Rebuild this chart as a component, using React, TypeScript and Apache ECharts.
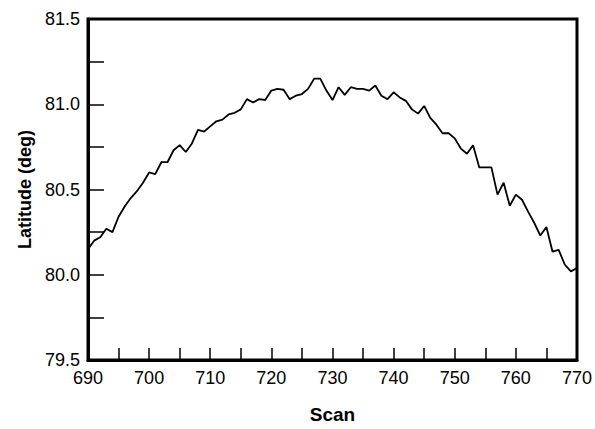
import React, { useEffect, useRef } from "react";
import * as echarts from "echarts";

const scans: number[] = [];
for (let s = 690; s <= 770; s++) scans.push(s);

const latitude = [
  80.15, 80.2, 80.22, 80.27, 80.25, 80.34, 80.4, 80.45, 80.49, 80.54,
  80.6, 80.59, 80.66, 80.66, 80.73, 80.76, 80.72, 80.77, 80.85, 80.84,
  80.87, 80.9, 80.91, 80.94, 80.95, 80.97, 81.03, 81.01, 81.03, 81.025,
  81.08, 81.09, 81.085, 81.03, 81.05, 81.06, 81.09, 81.15, 81.15, 81.08,
  81.025, 81.1, 81.055, 81.1, 81.09, 81.09, 81.08, 81.11, 81.05, 81.03,
  81.07, 81.04, 81.02, 80.97, 80.945, 80.99, 80.92, 80.88, 80.83, 80.83,
  80.8, 80.74, 80.71, 80.76, 80.63, 80.63, 80.63, 80.47, 80.54, 80.405,
  80.47, 80.44, 80.37, 80.305, 80.23, 80.28, 80.135, 80.146, 80.06, 80.02,
  80.04,
];

const xTitle = "Scan";
const yTitle = "Latitude (deg)";

export default function App() {
  const ref = useRef<HTMLDivElement>(null);
  useEffect(() => {
    if (!ref.current) return;
    const chart = echarts.init(ref.current, undefined, { renderer: "svg" });
    const font = "'Liberation Sans', Arial, Helvetica, sans-serif";
    chart.setOption({
      animation: false,
      backgroundColor: "#fff",
      grid: {
        left: 88,
        right: 18,
        top: 19,
        bottom: 58,
        show: true,
        borderColor: "#000",
        borderWidth: 3,
        backgroundColor: "transparent",
      },
      xAxis: {
        type: "value",
        min: 690,
        max: 770,
        interval: 5,
        name: xTitle,
        nameLocation: "middle",
        nameGap: 45,
        nameTextStyle: { fontFamily: font, fontSize: 19, fontWeight: "bold", color: "#000" },
        axisLine: { show: true, lineStyle: { color: "#000", width: 3 } },
        axisTick: { show: true, inside: true, length: 12, lineStyle: { color: "#000", width: 1.5 } },
        axisLabel: {
          fontFamily: font,
          fontSize: 18,
          color: "#000",
          margin: 9,
          formatter: (v: number) => (v % 10 === 0 ? String(v) : ""),
        },
        splitLine: { show: false },
      },
      yAxis: {
        type: "value",
        min: 79.5,
        max: 81.5,
        interval: 0.25,
        name: yTitle,
        nameLocation: "middle",
        nameGap: 44,
        nameRotate: 90,
        nameTextStyle: { fontFamily: font, fontSize: 18, fontWeight: "bold", color: "#000" },
        axisLine: { show: true, lineStyle: { color: "#000", width: 3 } },
        axisTick: { show: true, inside: true, length: 16, lineStyle: { color: "#000", width: 1.5 } },
        axisLabel: {
          fontFamily: font,
          fontSize: 18,
          color: "#000",
          margin: 8,
          formatter: (v: number) =>
            Math.abs(v * 2 - Math.round(v * 2)) < 1e-6 ? v.toFixed(1) : "",
        },
        splitLine: { show: false },
      },
      series: [
        {
          type: "line",
          data: scans.map((s, i) => [s, latitude[i]]),
          showSymbol: false,
          symbol: "none",
          lineStyle: { color: "#000", width: 1.8 },
        },
      ],
    });
    return () => chart.dispose();
  }, []);
  return (
    <div
      ref={ref}
      style={{ position: "absolute", left: 0, top: 0, width: 595, height: 429, background: "#fff" }}
    />
  );
}
